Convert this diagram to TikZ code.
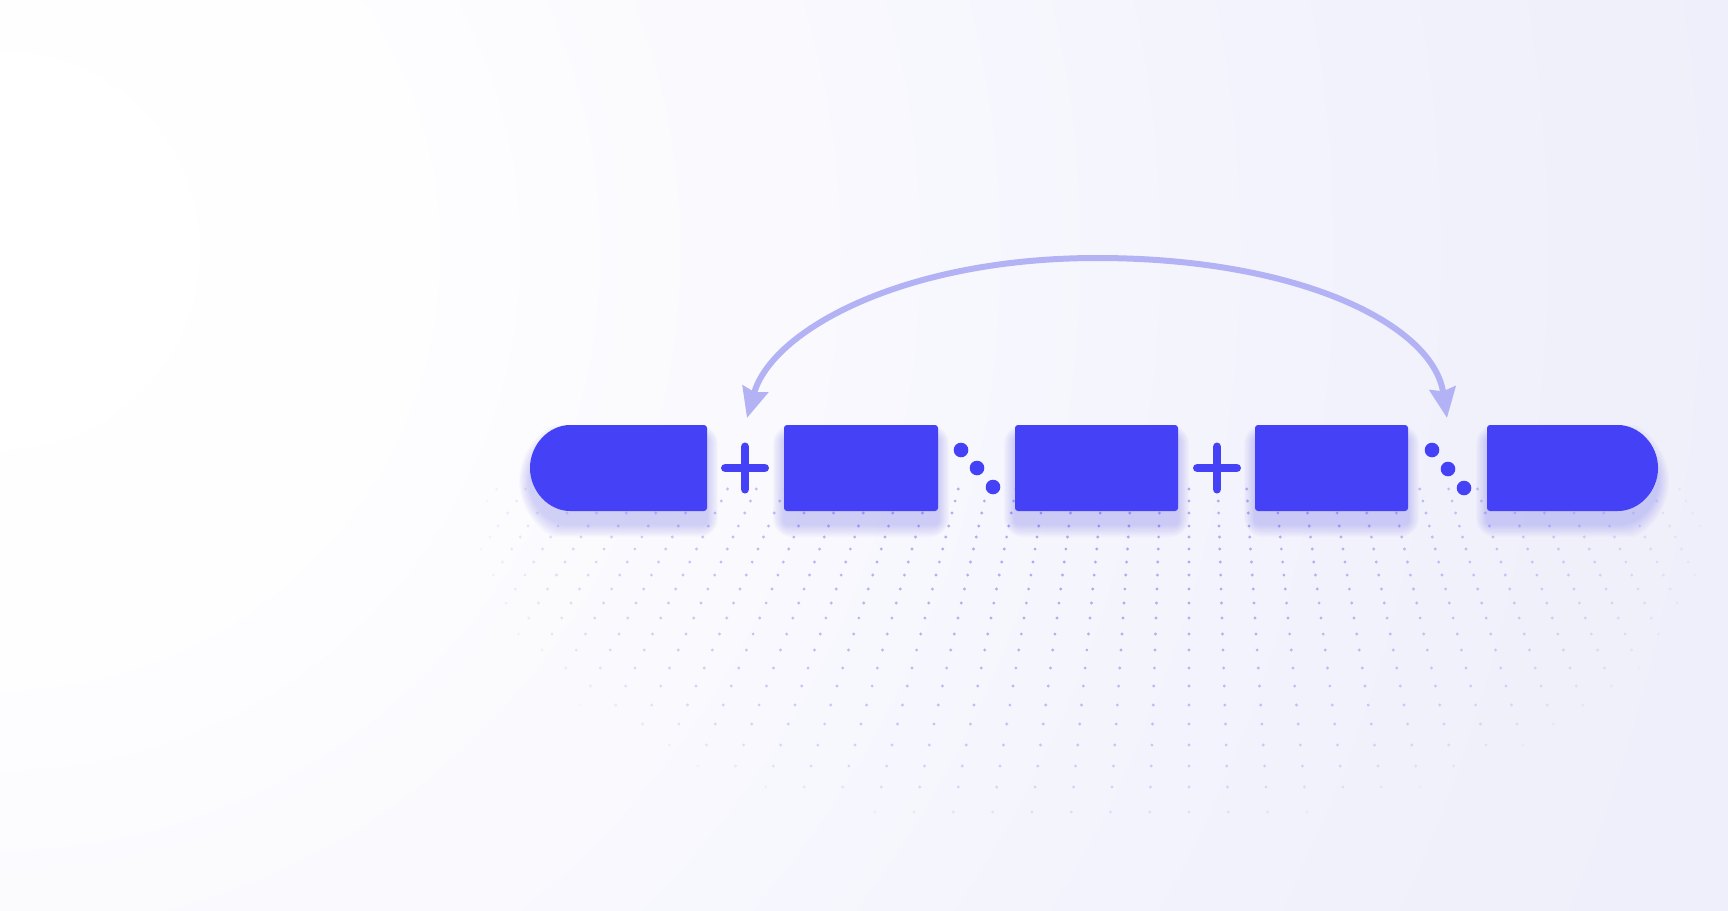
\documentclass[tikz,border=0pt]{standalone}
\usetikzlibrary{arrows.meta,shapes.misc}
\definecolor{boxc}{HTML}{4541F6}
\definecolor{arrowc}{HTML}{B3B2F5}
\definecolor{dotc}{HTML}{8E8CE8}
\definecolor{bgW}{HTML}{FEFEFF}
\definecolor{bgA}{HTML}{F3F3FD}
\definecolor{bgM}{HTML}{F0F0FB}
\definecolor{bgB}{HTML}{ECECFA}
\definecolor{bgC}{HTML}{E9E9F9}
\pgfdeclareradialshading{bgshade}{\pgfpoint{0bp}{0bp}}{color(0bp)=(white); color(5bp)=(bgW); color(16bp)=(bgA); color(20bp)=(bgM); color(30bp)=(bgB); color(44bp)=(bgB); color(50bp)=(bgC)}
\tikzset{
  blk/.style={fill=boxc, draw=none, inner sep=0pt, minimum height=86pt, rounded corners=3pt},
  pillL/.style={blk, rounded rectangle, rounded rectangle right arc=none},
  pillR/.style={blk, rounded rectangle, rounded rectangle left arc=none},
  rectbox/.style={blk, rectangle},
  sym/.style={draw=boxc, line width=8.5pt, line cap=round},
  arrowline/.style={draw=arrowc, line width=6pt, line cap=round, -{Stealth[length=30pt,width=26pt,inset=3pt]}},
}
\newcommand\glowbox[4]{% style, x, width, name prefix
  \foreach \i in {1,...,10}{
    \pgfmathsetmacro\ww{#3+2.2*\i}
    \pgfmathsetmacro\hh{86+2.6*\i}
    \pgfmathsetmacro\rr{3+1.6*\i}
    \node[#1, fill=boxc, fill opacity=0.022, rounded corners=\rr pt, minimum width=\ww pt, minimum height=\hh pt] (#4\i) at (#2,481) {};
  }}
\begin{document}
\begin{tikzpicture}[x=1pt,y=-1pt]
\useasboundingbox (0,0) rectangle (1728,910);
% background
\begin{scope}
\clip (0,0) rectangle (1728,910);
\shade[shading=bgshade] (0,250) circle (2000pt);
\end{scope}
% perspective dot floor
\foreach \yy in {489,501,513,526,537,549,562,575,589,603,618,634,650,668,686,705,724,745,766,787,812} {
  \pgfmathsetmacro\ss{0.0323*(\yy+404)}
  \foreach \k in {-27,...,18} {
    \pgfmathsetmacro\xx{1189+\k*\ss}
    \pgfmathsetmacro\aa{max(0,1-((\xx-1090)/620)^2-((\yy-540)/300)^2)}
    \ifdim\aa pt>0.02pt
      \pgfmathsetmacro\op{0.7*(\aa^0.7)}
      \fill[dotc, opacity=\op] (\xx,\yy) circle (1.6pt);
    \fi
  }
}
% soft shadows
\glowbox{pillL}{618.5}{177}{ga}
\glowbox{rectbox}{861}{154}{gb}
\glowbox{rectbox}{1096.5}{163}{gc}
\glowbox{rectbox}{1331.5}{153}{gd}
\glowbox{pillR}{1572.5}{171}{ge}
% blocks
\node[pillL, minimum width=177pt] (b1) at (618.5,468) {};
\node[rectbox, minimum width=154pt] (b2) at (861,468) {};
\node[rectbox, minimum width=163pt] (b3) at (1096.5,468) {};
\node[rectbox, minimum width=153pt] (b4) at (1331.5,468) {};
\node[pillR, minimum width=171pt] (b5) at (1572.5,468) {};
% plus signs
\coordinate (p1) at (745,468);
\coordinate (p2) at (1217,468);
\draw[sym] ([xshift=-19.75pt]p1) -- ([xshift=19.75pt]p1) ([yshift=-21.25pt]p1) -- ([yshift=21.25pt]p1);
\draw[sym] ([xshift=-19.75pt]p2) -- ([xshift=19.75pt]p2) ([yshift=-21.25pt]p2) -- ([yshift=21.25pt]p2);
% dots
\fill[boxc] (961,450) circle (7.3pt) (977,468) circle (7.3pt) (993,487) circle (7.3pt);
\fill[boxc] (1432,450) circle (7.3pt) (1448,469) circle (7.3pt) (1464,488) circle (7.3pt);
% arrow
\coordinate (arrTop) at (1097,258);
\coordinate (arrL) at (747,418);
\coordinate (arrR) at (1447,418);
\draw[arrowline] (arrTop) .. controls (904,258) and (772,330) .. (arrL);
\draw[arrowline] (arrTop) .. controls (1300,258) and (1433,325) .. (arrR);
\end{tikzpicture}
\end{document}
